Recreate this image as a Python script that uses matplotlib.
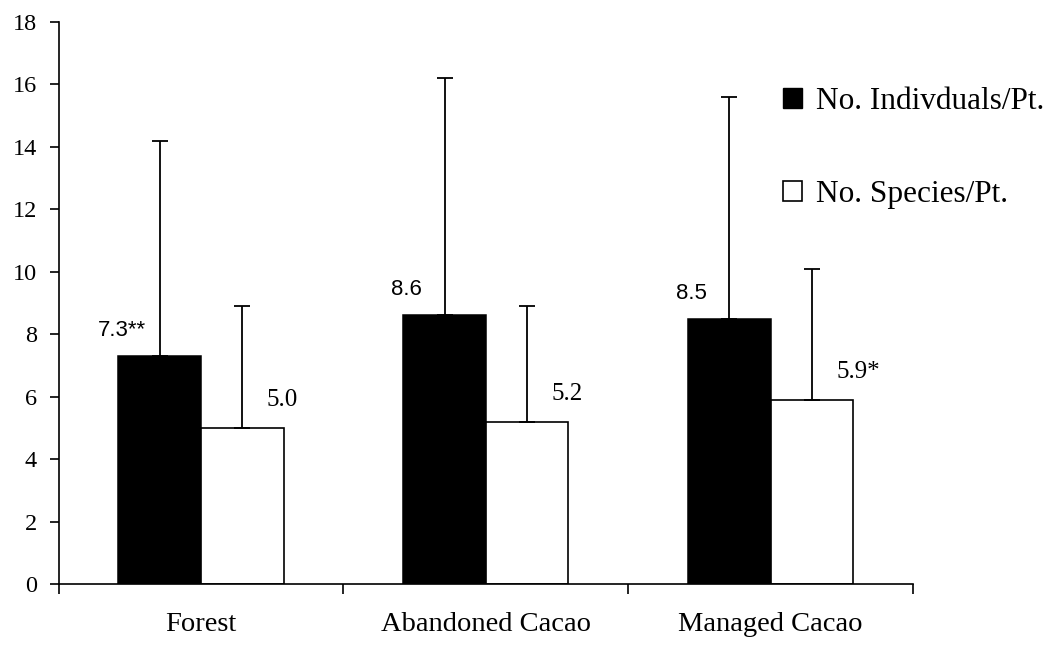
"""Bird counts per point: individuals vs species by habitat"""

import numpy as np
import matplotlib
matplotlib.use("Agg")
import matplotlib.pyplot as plt
from matplotlib.patches import Patch

# data
habitats = ["Forest", "Abandoned Cacao", "Managed Cacao"]
indiv_mean = [7.3, 8.6, 8.5]
indiv_sd = [6.9, 7.6, 7.1]
species_mean = [5.0, 5.2, 5.9]
species_sd = [3.9, 3.7, 4.2]
indiv_marks = ["**", "", ""]
species_marks = ["", "", "*"]
legend_labels = ["No. Indivduals/Pt.", "No. Species/Pt."]

SERIF = "Liberation Serif"
SANS = "Liberation Sans"
plt.rcParams["font.family"] = [SERIF, "DejaVu Serif"]

fig = plt.figure(figsize=(10.51, 6.47), dpi=100)
ax = fig.add_axes([0.0558, 0.0974, 0.8129, 0.8686])

x = np.arange(len(habitats))
width = 0.29
off = 0.145
err_kw = dict(ecolor="black", elinewidth=1.3, capsize=5.5, capthick=1.3)

b1 = ax.bar(x - off, indiv_mean, width, color="black", edgecolor="black",
            linewidth=1.1,
            yerr=[np.zeros(len(x)), indiv_sd], error_kw=err_kw, zorder=2)
b2 = ax.bar(x + off, species_mean, width, color="white", edgecolor="black",
            linewidth=1.2,
            yerr=[np.zeros(len(x)), species_sd], error_kw=err_kw, zorder=2)

# value labels
for rect, val, mark in zip(b1, indiv_mean, indiv_marks):
    ax.annotate(f"{val:.1f}{mark}", (rect.get_x(), rect.get_height()),
                xytext=(3, 20), textcoords="offset pixels", ha="center",
                va="baseline", fontsize=16, family=SANS)
for rect, val, mark in zip(b2, species_mean, species_marks):
    ax.annotate(f"{val:.1f}{mark}", (rect.get_x() + rect.get_width(),
                                      rect.get_height()),
                xytext=(-17, 22), textcoords="offset pixels", ha="left",
                va="baseline", fontsize=18)

ax.set_xlim(-0.5, 2.5)
ax.set_ylim(0, 18)
ax.set_yticks(np.arange(0, 19, 2))
ax.set_xticks(np.arange(-0.5, 3, 1))
ax.set_xticklabels([])
ax.set_xticks(x, minor=True)
ax.set_xticklabels(habitats, minor=True, fontsize=20.5)

ax.tick_params(axis="y", direction="out", length=6.5, width=1.2, pad=9,
               labelsize=17.5)
ax.tick_params(axis="x", which="major", direction="out", length=7, width=1.2)
ax.tick_params(axis="x", which="minor", length=0, pad=20)

for side in ["top", "right"]:
    ax.spines[side].set_visible(False)
for side in ["left", "bottom"]:
    ax.spines[side].set_linewidth(1.2)

handles = [Patch(facecolor="black", edgecolor="black"),
           Patch(facecolor="white", edgecolor="black", linewidth=1.2)]
fig.legend(handles, legend_labels, loc="upper left",
           bbox_to_anchor=(0.745, 0.865), frameon=False,
           prop={"size": 22.5}, handlelength=0.6,
           handleheight=0.6, handletextpad=0.45, labelspacing=2.05,
           borderpad=0, borderaxespad=0)

fig.savefig("out.png", dpi=100)
